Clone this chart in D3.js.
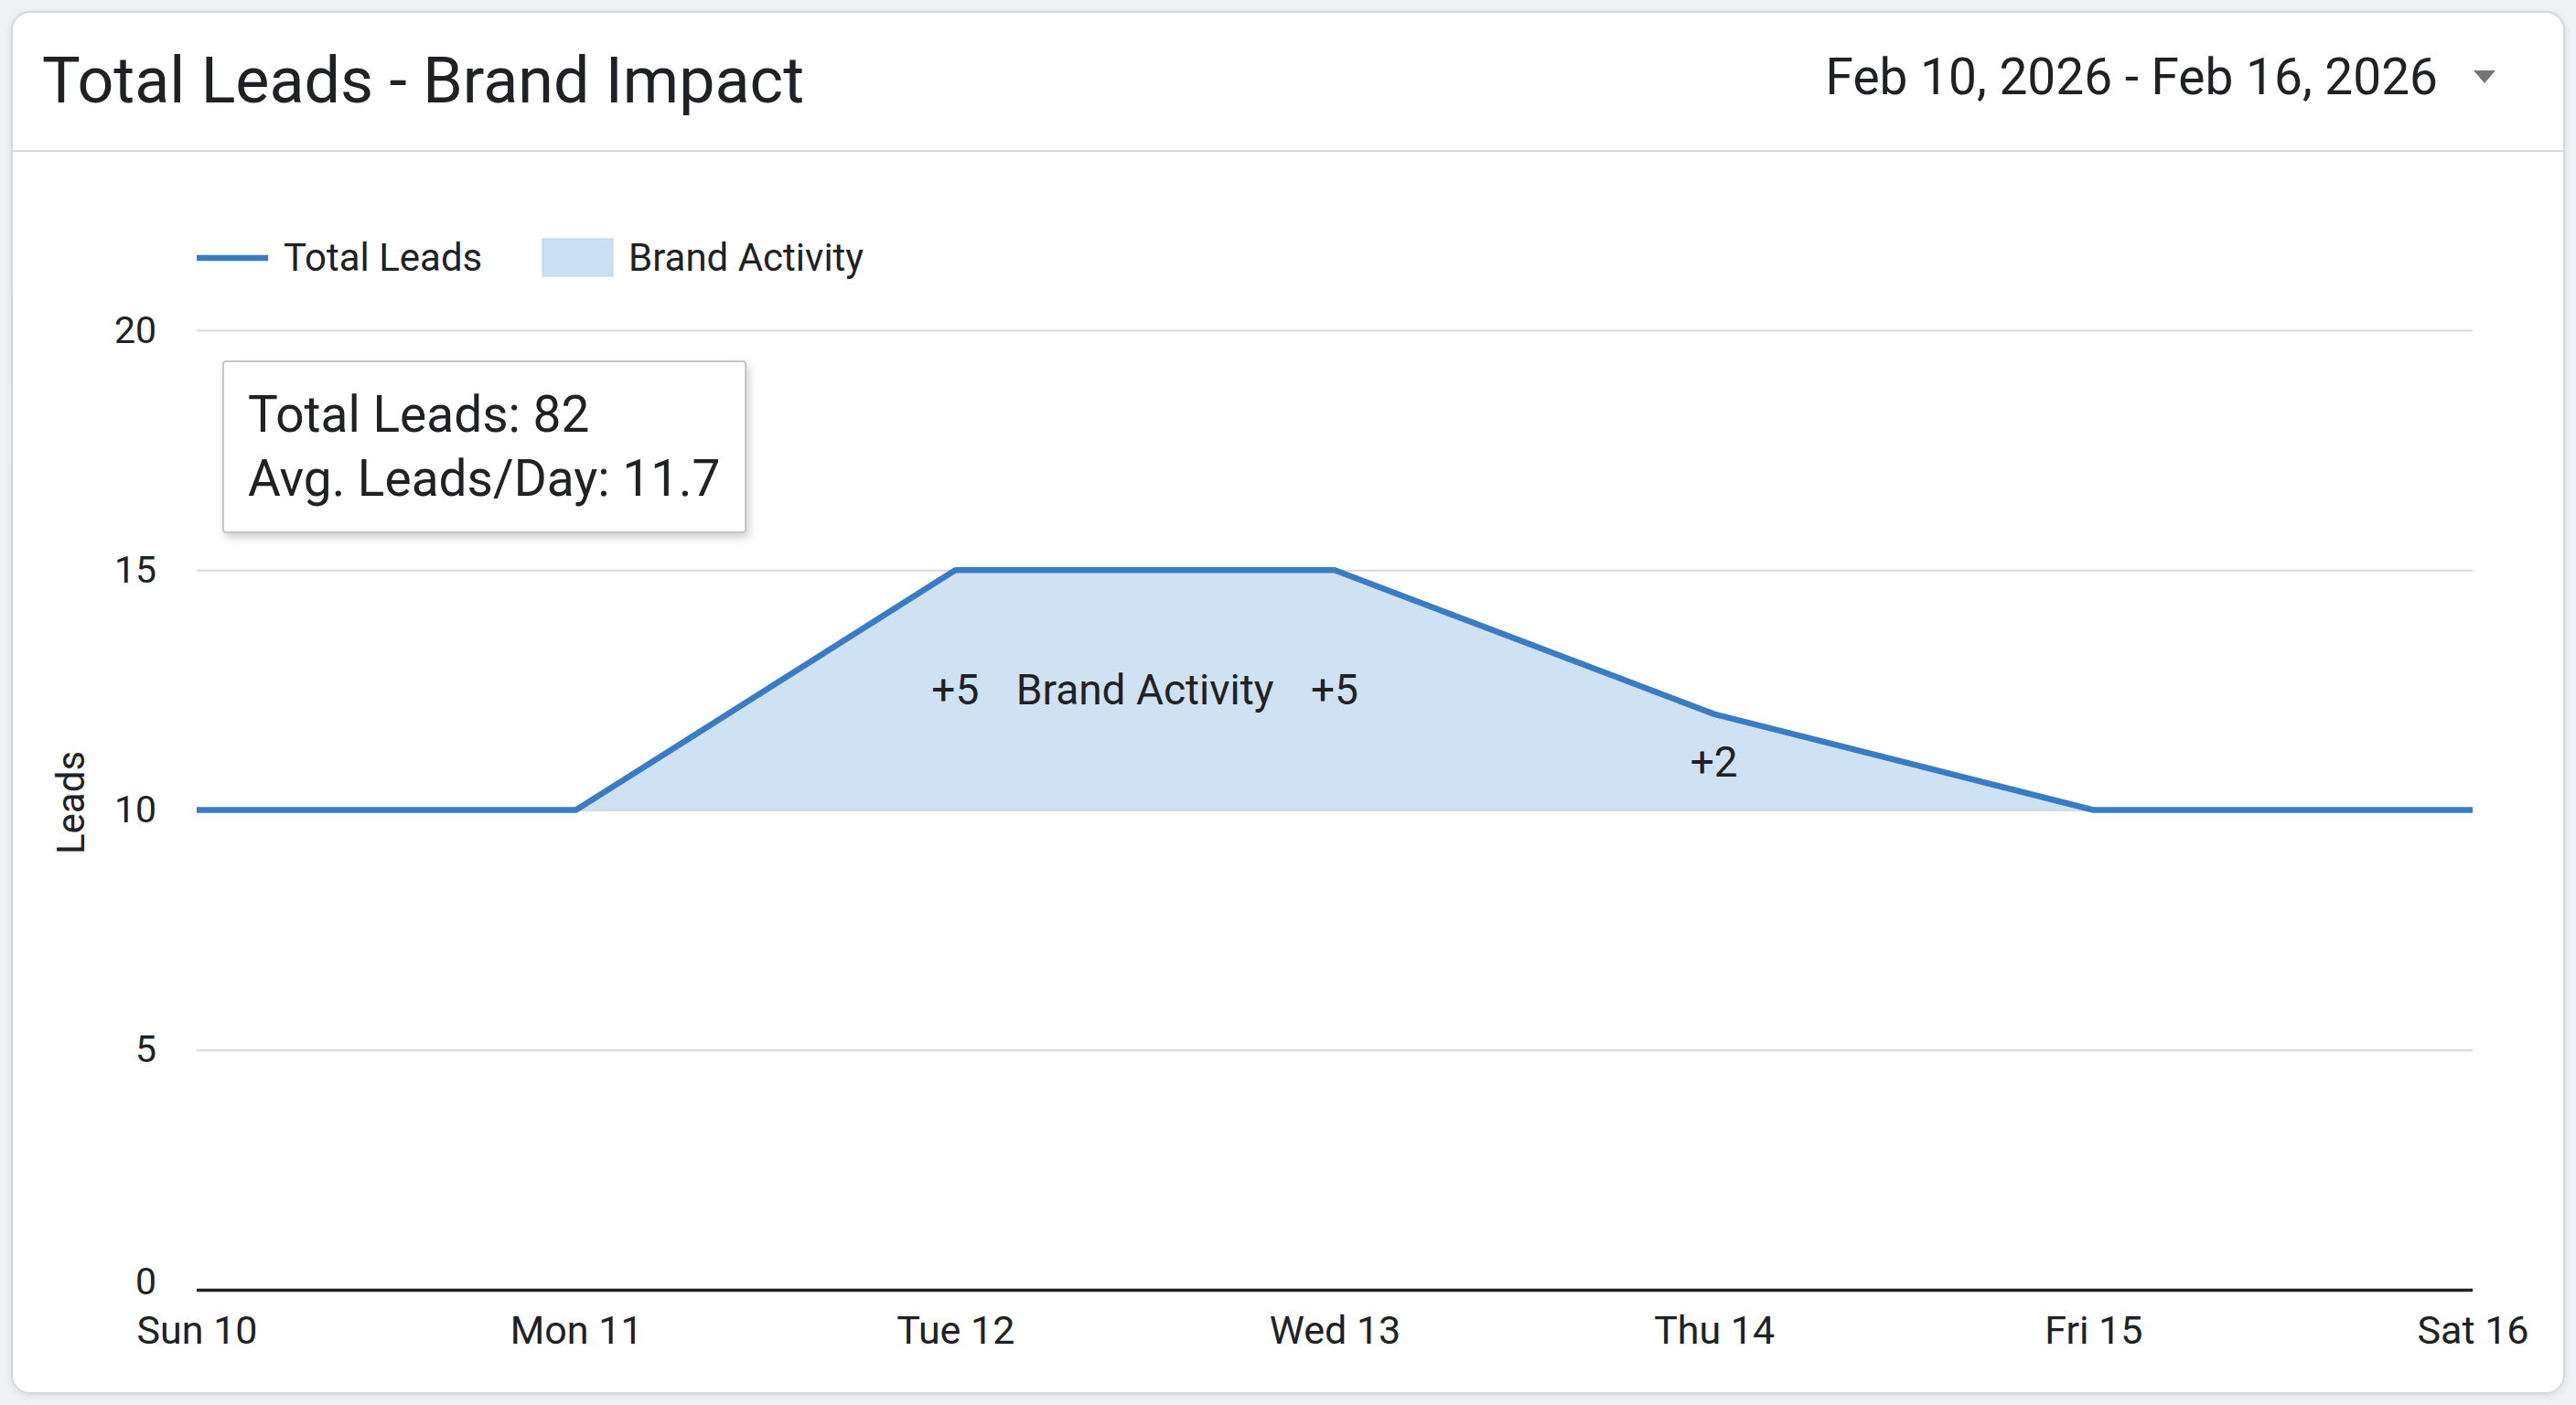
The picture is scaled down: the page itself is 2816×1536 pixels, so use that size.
<!DOCTYPE html>
<html>
<head>
<meta charset="utf-8">
<script src="https://cdn.jsdelivr.net/npm/d3@7"></script>
<style>
  html, body { margin: 0; padding: 0; background: #eef2f4; }
  svg { display: block; font-family: Roboto, "Noto Sans", sans-serif; }
</style>
</head>
<body>
<svg id="chart"></svg>
<script>
const days = ["Sun 10", "Mon 11", "Tue 12", "Wed 13", "Thu 14", "Fri 15", "Sat 16"];
const leads = [10, 10, 15, 15, 12, 10, 10];
const baseline = 10;
const yTicks = [0, 5, 10, 15, 20];
const liftLabels = [
  { day: "Tue 12", text: "+5" },
  { day: "Wed 13", text: "+5" },
  { day: "Thu 14", text: "+2" },
];
const title = "Total Leads - Brand Impact";
const dateRange = "Feb 10, 2026 - Feb 16, 2026";

let width = 2816,
  height = 1536;

const totalLeads = d3.sum(leads);
const avgLeads = totalLeads / leads.length;

let svg = d3.select("#chart").attr("width", width).attr("height", height);

let defs = svg.append("defs");
let shadow = defs.append("filter").attr("id", "shadow")
  .attr("x", "-10%").attr("y", "-10%").attr("width", "130%").attr("height", "140%");
shadow.append("feDropShadow")
  .attr("dx", 3).attr("dy", 5).attr("stdDeviation", 5)
  .attr("flood-color", "#000").attr("flood-opacity", 0.18);
let cardShadow = defs.append("filter").attr("id", "cardShadow")
  .attr("x", "-2%").attr("y", "-2%").attr("width", "104%").attr("height", "104%");
cardShadow.append("feDropShadow")
  .attr("dx", 0).attr("dy", 2).attr("stdDeviation", 3)
  .attr("flood-color", "#000").attr("flood-opacity", 0.1);

// Card
svg.append("rect")
  .attr("x", 13).attr("y", 13)
  .attr("width", 2790).attr("height", 1510)
  .attr("rx", 20)
  .attr("fill", "#fff")
  .attr("stroke", "#d3d8dc")
  .attr("stroke-width", 2)
  .attr("filter", "url(#cardShadow)");

svg.append("line")
  .attr("x1", 14).attr("x2", 2802)
  .attr("y1", 165).attr("y2", 165)
  .attr("stroke", "#d6d9dc").attr("stroke-width", 2);

// Header
svg.append("text")
  .attr("x", 46).attr("y", 112)
  .attr("font-size", 70)
  .attr("fill", "#202124")
  .text(title);

svg.append("text")
  .attr("x", 2665).attr("y", 103)
  .attr("text-anchor", "end")
  .attr("font-size", 55)
  .attr("fill", "#202124")
  .text(dateRange);

svg.append("path")
  .attr("d", "M2704,77 L2728,77 L2716,91 Z")
  .attr("fill", "#757575");

// Scales
const margin = { left: 215, right: 2703, top: 361, bottom: 1410 };

let x = d3.scalePoint().domain(days).range([margin.left, margin.right]);
let y = d3.scaleLinear().domain([0, 20]).range([margin.bottom, margin.top]);

// Grid
let grid = svg.append("g").attr("id", "grid")
  .attr("transform", `translate(${margin.left},0)`)
  .call(d3.axisLeft(y).tickValues(yTicks).tickSize(-(margin.right - margin.left)).tickFormat(""));
grid.select(".domain").remove();
grid.selectAll(".tick line")
  .attr("stroke", (d) => (d === 0 ? "#222" : "#d9d9d9"))
  .attr("stroke-width", (d) => (d === 0 ? 3.5 : 2));

// Y axis labels
let yAxis = svg.append("g")
  .attr("transform", `translate(${margin.left},0)`)
  .call(d3.axisLeft(y).tickValues(yTicks).tickSize(0).tickPadding(44));
yAxis.select(".domain").remove();
yAxis.selectAll("text")
  .attr("font-size", 41)
  .attr("font-family", "Roboto, sans-serif")
  .attr("fill", "#202124");
yAxis.selectAll(".tick")
  .filter((d) => d === 0)
  .select("text")
  .attr("dy", "0.1em");

svg.append("text")
  .attr("transform", `translate(92,${y(10) - 8}) rotate(-90)`)
  .attr("text-anchor", "middle")
  .attr("font-size", 42)
  .attr("fill", "#202124")
  .text("Leads");

// X axis
let xAxis = svg.append("g")
  .attr("transform", `translate(0,${margin.bottom})`)
  .call(d3.axisBottom(x).tickSize(0).tickPadding(28));
xAxis.select(".domain").remove();
xAxis.selectAll("text")
  .attr("font-size", 43)
  .attr("font-family", "Roboto, sans-serif")
  .attr("fill", "#202124");

// Brand activity area (lift above baseline)
const points = days.map((d, i) => ({ day: d, value: leads[i] }));

let area = d3.area()
  .x((d) => x(d.day))
  .y0(y(baseline))
  .y1((d) => y(d.value));

svg.append("path")
  .datum(points)
  .attr("d", area)
  .attr("fill", "#c9dff3")
  .attr("opacity", 0.9);

let line = d3.line()
  .x((d) => x(d.day))
  .y((d) => y(d.value));

svg.append("path")
  .datum(points)
  .attr("d", line)
  .attr("fill", "none")
  .attr("stroke", "#3a7cc4")
  .attr("stroke-width", 6.5)
  .attr("stroke-linejoin", "round");

// Lift labels
let labelG = svg.append("g")
  .attr("font-size", 46)
  .attr("fill", "#202124")
  .attr("text-anchor", "middle")
  .attr("dominant-baseline", "central");

liftLabels.forEach((l) => {
  const v = leads[days.indexOf(l.day)];
  labelG.append("text")
    .attr("x", x(l.day))
    .attr("y", y((v + baseline) / 2))
    .text(l.text);
});

labelG.append("text")
  .attr("x", (x("Tue 12") + x("Wed 13")) / 2)
  .attr("y", y((15 + baseline) / 2))
  .text("Brand Activity");

// Legend
let legend = svg.append("g").attr("font-size", 42).attr("fill", "#202124");
legend.append("line")
  .attr("x1", 215).attr("x2", 293)
  .attr("y1", 282).attr("y2", 282)
  .attr("stroke", "#3a7cc4").attr("stroke-width", 6.5);
legend.append("text").attr("x", 310).attr("y", 296).text("Total Leads");
legend.append("rect")
  .attr("x", 593).attr("y", 261)
  .attr("width", 77).attr("height", 41)
  .attr("fill", "#c9dff3")
  .attr("stroke", "#bcd4ec").attr("stroke-width", 1);
legend.append("text").attr("x", 687).attr("y", 296).text("Brand Activity");

// Summary box
let tip = svg.append("g");
tip.append("rect")
  .attr("x", 244).attr("y", 395)
  .attr("width", 571).attr("height", 187)
  .attr("rx", 3)
  .attr("fill", "#fff")
  .attr("stroke", "#c6c6c6")
  .attr("stroke-width", 2)
  .attr("filter", "url(#shadow)");
tip.append("text")
  .attr("x", 271).attr("y", 472)
  .attr("font-size", 55)
  .attr("fill", "#202124")
  .text(`Total Leads: ${totalLeads}`);
tip.append("text")
  .attr("x", 271).attr("y", 542)
  .attr("font-size", 55)
  .attr("fill", "#202124")
  .text(`Avg. Leads/Day: ${avgLeads.toFixed(1)}`);
</script>
</body>
</html>
